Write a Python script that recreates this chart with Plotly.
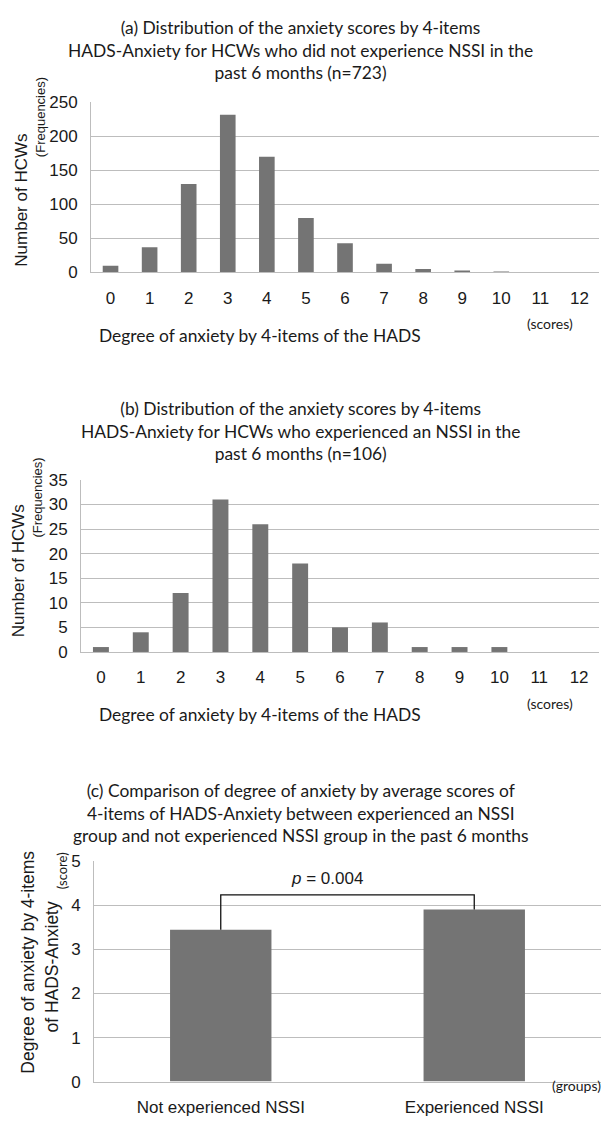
import plotly.graph_objects as go

# ---------------- data ----------------
scores = list(range(13))
score_labels = [str(s) for s in scores]
freq_no_nssi = [10, 37, 130, 232, 170, 80, 43, 13, 5, 3, 1, 0, 0]
freq_nssi = [1, 4, 12, 31, 26, 18, 5, 6, 1, 1, 1, 0, 0]
groups = ["Not experienced NSSI", "Experienced NSSI"]
group_means = [3.45, 3.91]
p_text = "<i>p</i> = 0.004"

title_a = ("(a) Distribution of the anxiety scores by 4-items<br>"
           "HADS-Anxiety for HCWs who did not experience NSSI in the<br>"
           "past 6 months (n=723)")
title_b = ("(b) Distribution of the anxiety scores by 4-items<br>"
           "HADS-Anxiety for HCWs who experienced an NSSI in the<br>"
           "past 6 months (n=106)")
title_c = ("(c) Comparison of degree of anxiety by average scores of<br>"
           "4-items of HADS-Anxiety between experienced an NSSI<br>"
           "group and not experienced NSSI group in the past 6 months")

W, H = 606, 1126
BAR = "#747474"
GRID = "#bdbdbd"
TXT = "#1a1a1a"
ARIAL = "Liberation Sans, Arial, sans-serif"
CAL = "Lato, Carlito, Calibri, sans-serif"


def px(x):
    return x / W


def py(y):
    return 1 - y / H


fig = go.Figure()
fig.add_trace(go.Bar(x=scores, y=freq_no_nssi, width=0.4, marker_color=BAR,
                     marker_line_width=0, xaxis="x", yaxis="y"))
fig.add_trace(go.Bar(x=scores, y=freq_nssi, width=0.4, marker_color=BAR,
                     marker_line_width=0, xaxis="x2", yaxis="y2"))
fig.add_trace(go.Bar(x=groups, y=group_means, width=0.4, marker_color=BAR,
                     marker_line_width=0, xaxis="x3", yaxis="y3"))

common_x = dict(showgrid=False, showline=True, linecolor=GRID, linewidth=1,
                ticks="", zeroline=False, ticklabelstandoff=10,
                tickfont=dict(family=ARIAL, size=17, color=TXT))
common_y = dict(showgrid=True, gridcolor=GRID, gridwidth=1, showline=True,
                linecolor=GRID, linewidth=1, ticks="", zeroline=False,
                ticklabelstandoff=9,
                tickfont=dict(family=ARIAL, size=17, color=TXT))

fig.update_layout(
    width=W, height=H, margin=dict(l=0, r=0, t=0, b=0),
    paper_bgcolor="white", plot_bgcolor="white", showlegend=False,
    bargap=0.6,
    xaxis=dict(domain=[px(91), px(599)], anchor="y", range=[-0.5, 12.5],
               tickmode="array", tickvals=scores, ticktext=score_labels,
               **common_x),
    yaxis=dict(domain=[py(268), py(95)], anchor="x", range=[0, 250],
               dtick=50, **common_y),
    xaxis2=dict(domain=[px(81), px(599)], anchor="y2", range=[-0.5, 12.5],
                tickmode="array", tickvals=scores, ticktext=score_labels,
                **common_x),
    yaxis2=dict(domain=[py(654), py(479)], anchor="x2", range=[0, 35],
                dtick=5, **common_y),
    xaxis3=dict(domain=[px(94), px(601)], anchor="y3", type="category",
                range=[-0.5, 1.5], **common_x),
    yaxis3=dict(domain=[py(1091), py(867)], anchor="x3", range=[0, 5],
                dtick=1, **common_y),
)

ann = []


def add_text(text, x, y, size, font=CAL, angle=0, xanchor="center"):
    ann.append(dict(text=text, x=px(x), y=py(y), xref="paper", yref="paper",
                    showarrow=False, textangle=angle, xanchor=xanchor,
                    yanchor="middle",
                    font=dict(family=font, size=size, color=TXT)))


# titles
add_text(title_a, 300, 42, 17.4)
add_text(title_b, 300, 429.5, 17.4)
add_text(title_c, 300, 818, 17.4)

# axis titles panel a
add_text("Number of HCWs", 22, 195, 17, ARIAL, -90)
add_text("(Frequencies)", 40, 110, 13, ARIAL, -90)
add_text("Degree of anxiety by 4-items of the HADS", 260, 332, 17.4)
add_text("(scores)", 550, 320, 14)

# axis titles panel b
add_text("Number of HCWs", 18, 572, 17, ARIAL, -90)
add_text("(Frequencies)", 38, 497, 13, ARIAL, -90)
add_text("Degree of anxiety by 4-items of the HADS", 260, 718, 17.4)
add_text("(scores)", 550, 706, 14)

# axis titles panel c
add_text("Degree of anxiety by 4-items", 28, 970, 17.5, ARIAL, -90)
add_text("of HADS-Anxiety", 52, 974, 17.5, ARIAL, -90)
add_text("(score)", 62, 877, 13, CAL, -90)
add_text("(groups)", 603, 1095, 14, xanchor="right")

# significance bracket
top = max(group_means) + 0.33
fig.add_shape(type="path", xref="x3", yref="y3",
              path=f"M 0 {group_means[0]} L 0 {top} L 1 {top} L 1 {group_means[1]}",
              line=dict(color="#111111", width=1.3))
ann.append(dict(text=p_text, x=0.42, y=top + 0.38, xref="x3", yref="y3",
                showarrow=False, xanchor="center", yanchor="middle",
                font=dict(family=ARIAL, size=17, color=TXT)))

fig.update_layout(annotations=ann)
fig.write_html(
    "out.html",
    config={"displayModeBar": False},
    post_script="document.body.style.margin='0';document.body.style.overflow='hidden';",
)
